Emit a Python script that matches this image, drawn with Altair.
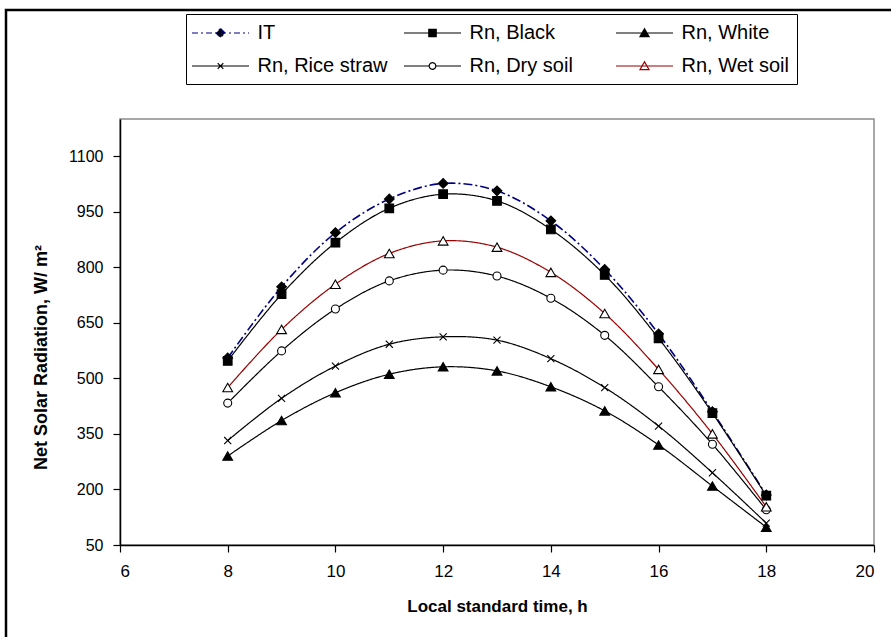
import altair as alt
import pandas as pd

# ---- data ----
hours = [8, 9, 10, 11, 12, 13, 14, 15, 16, 17, 18]
series_names = ["IT", "Rn, Black", "Rn, White", "Rn, Rice straw", "Rn, Dry soil", "Rn, Wet soil"]
it_vals = [555, 747, 893, 984, 1026, 1006, 925, 794, 620, 410, 185]
black_vals = [547, 727, 866, 959, 997, 979, 902, 779, 608, 406, 183]
white_vals = [290, 386, 461, 511, 531, 520, 477, 412, 320, 209, 98]
rice_vals = [332, 446, 533, 592, 612, 603, 553, 475, 371, 245, 109]
dry_vals = [433, 574, 687, 763, 792, 776, 716, 616, 477, 322, 145]
wet_vals = [475, 632, 754, 837, 871, 854, 786, 675, 524, 350, 153]
x_ticks = [6, 8, 10, 12, 14, 16, 18, 20]
y_ticks = [50, 200, 350, 500, 650, 800, 950, 1100]

all_vals = [it_vals, black_vals, white_vals, rice_vals, dry_vals, wet_vals]

# legend is filled column by column (2 rows x 3 columns)
legend_order = ["IT", "Rn, Rice straw", "Rn, Black", "Rn, Dry soil", "Rn, White", "Rn, Wet soil"]

# ---- styles ----
line_colors = ["#000080", "#000000", "#000000", "#000000", "#000000", "#990000"]
line_dashes = [[9, 3, 2, 3], [1, 0], [1, 0], [1, 0], [1, 0], [1, 0]]
line_widths = [1.6, 1.2, 1.2, 1.2, 1.2, 1.2]
x_path = "M-1,-1L1,1M-1,1L1,-1"
marker_shapes = ["diamond", "square", "triangle-up", x_path, "circle", "triangle-up"]
marker_fills = ["#000000", "#000000", "#000000", "transparent", "#ffffff", "#ffffff"]
marker_sizes = [95, 75, 95, 50, 64, 95]

# legend symbols: a line segment with the marker in its middle
L = 2.85
legend_path_map = {
    "IT": f"M-{L},0H{L}M0,-0.45L0.45,0L0,0.45L-0.45,0Z",
    "Rn, Black": f"M-{L},0H{L}M-0.37,-0.37H0.37V0.37H-0.37Z",
    "Rn, White": f"M-{L},0H{L}M0,-0.42L0.45,0.36L-0.45,0.36Z",
    "Rn, Rice straw": f"M-{L},0H{L}M-0.28,-0.28L0.28,0.28M-0.28,0.28L0.28,-0.28",
    "Rn, Dry soil": f"M-{L},0H-0.33M0.33,0H{L}M-0.33,0A0.33,0.33 0 1,1 0.33,0A0.33,0.33 0 1,1 -0.33,0Z",
    "Rn, Wet soil": f"M-{L},0H{L}M0,-0.42L0.45,0.36L-0.45,0.36Z",
}
legend_fill_map = {"IT": "#000000", "Rn, Black": "#000000", "Rn, White": "#000000",
                   "Rn, Rice straw": "transparent", "Rn, Dry soil": "#ffffff", "Rn, Wet soil": "#ffffff"}
legend_dash_map = {"IT": [6, 3, 2, 3]}
color_map = dict(zip(series_names, line_colors))

legend_paths = [legend_path_map[n] for n in legend_order]
legend_fills = [legend_fill_map[n] for n in legend_order]
legend_dashes = [legend_dash_map.get(n, [1, 0]) for n in legend_order]
legend_colors = [color_map[n] for n in legend_order]

rows = []
for name, vals in zip(series_names, all_vals):
    for h, v in zip(hours, vals):
        rows.append({"hour": h, "value": v, "series": name})
df = pd.DataFrame(rows)

FONT = "Liberation Sans"

x_enc = alt.X(
    "hour:Q",
    scale=alt.Scale(domain=[6, 20], nice=False, zero=False),
    axis=alt.Axis(values=x_ticks, format="d", title="Local standard time, h", labelPadding=11,
                  titlePadding=19, titleFontSize=17, labelFontSize=17),
)
y_enc = alt.Y(
    "value:Q",
    scale=alt.Scale(domain=[50, 1200], nice=False, zero=False),
    axis=alt.Axis(values=y_ticks, format="d", title="Net Solar Radiation, W/ m²", labelPadding=10,
                  titlePadding=18, titleFontSize=18, labelFontSize=16, titleY=238),
)

base = alt.Chart(df).encode(x=x_enc, y=y_enc)

layers = []
for i, name in enumerate(series_names):
    layers.append(
        base.transform_filter(alt.datum.series == name).mark_line(
            interpolate="catmull-rom", color=line_colors[i],
            strokeWidth=line_widths[i], strokeDash=line_dashes[i]
        )
    )
for i, name in enumerate(series_names):
    layers.append(
        base.transform_filter(alt.datum.series == name).mark_point(
            shape=marker_shapes[i], fill=marker_fills[i], stroke="#000000",
            size=marker_sizes[i], strokeWidth=1.1, opacity=1, fillOpacity=1
        )
    )

legend_spec = alt.Legend(
    orient="none", legendX=66, legendY=-105, columns=3, gridAlign="all",
    title=None, labelFont=FONT, labelFontSize=20, labelColor="#000000",
    symbolSize=400, symbolStrokeWidth=1.2, symbolOpacity=1, symbolOffset=15.5,
    padding=8, strokeColor="#000000", fillColor="#ffffff",
    rowPadding=12, columnPadding=13, labelOffset=26, labelLimit=400,
)
legend_layer = alt.Chart(df).transform_filter("false").mark_point(size=50).encode(
    x=alt.X("hour:Q"),
    y=alt.Y("value:Q"),
    shape=alt.Shape("series:N", scale=alt.Scale(domain=legend_order, range=legend_paths), legend=legend_spec),
    stroke=alt.Stroke("series:N", scale=alt.Scale(domain=legend_order, range=legend_colors), legend=legend_spec),
    fill=alt.Fill("series:N", scale=alt.Scale(domain=legend_order, range=legend_fills), legend=legend_spec),
    strokeDash=alt.StrokeDash("series:N", scale=alt.Scale(domain=legend_order, range=legend_dashes), legend=legend_spec),
)
layers.append(legend_layer)

frame = alt.Chart(pd.DataFrame({"f": [0]})).mark_rect(
    fillOpacity=0, stroke="#000000", strokeWidth=2.5, clip=False
).encode(x=alt.value(-114), x2=alt.value(900), y=alt.value(-109), y2=alt.value(700))
layers.append(frame)

chart = alt.layer(*layers).properties(
    width=754, height=426,
    autosize=alt.AutoSizeParams(type="none"),
    padding={"left": 120, "top": 119, "right": 17, "bottom": 92},
    background="#ffffff",
).configure_view(
    stroke="#8c8c8c", strokeWidth=1.5
).configure_axis(
    grid=False, domainColor="#000000", domainWidth=1.5, tickColor="#000000",
    tickSize=7, tickWidth=1.2, labelColor="#000000", titleColor="#000000",
    labelFont=FONT, titleFont=FONT, titleFontWeight="bold",
)

chart.save("out.html", embed_options={"renderer": "svg", "actions": False})
